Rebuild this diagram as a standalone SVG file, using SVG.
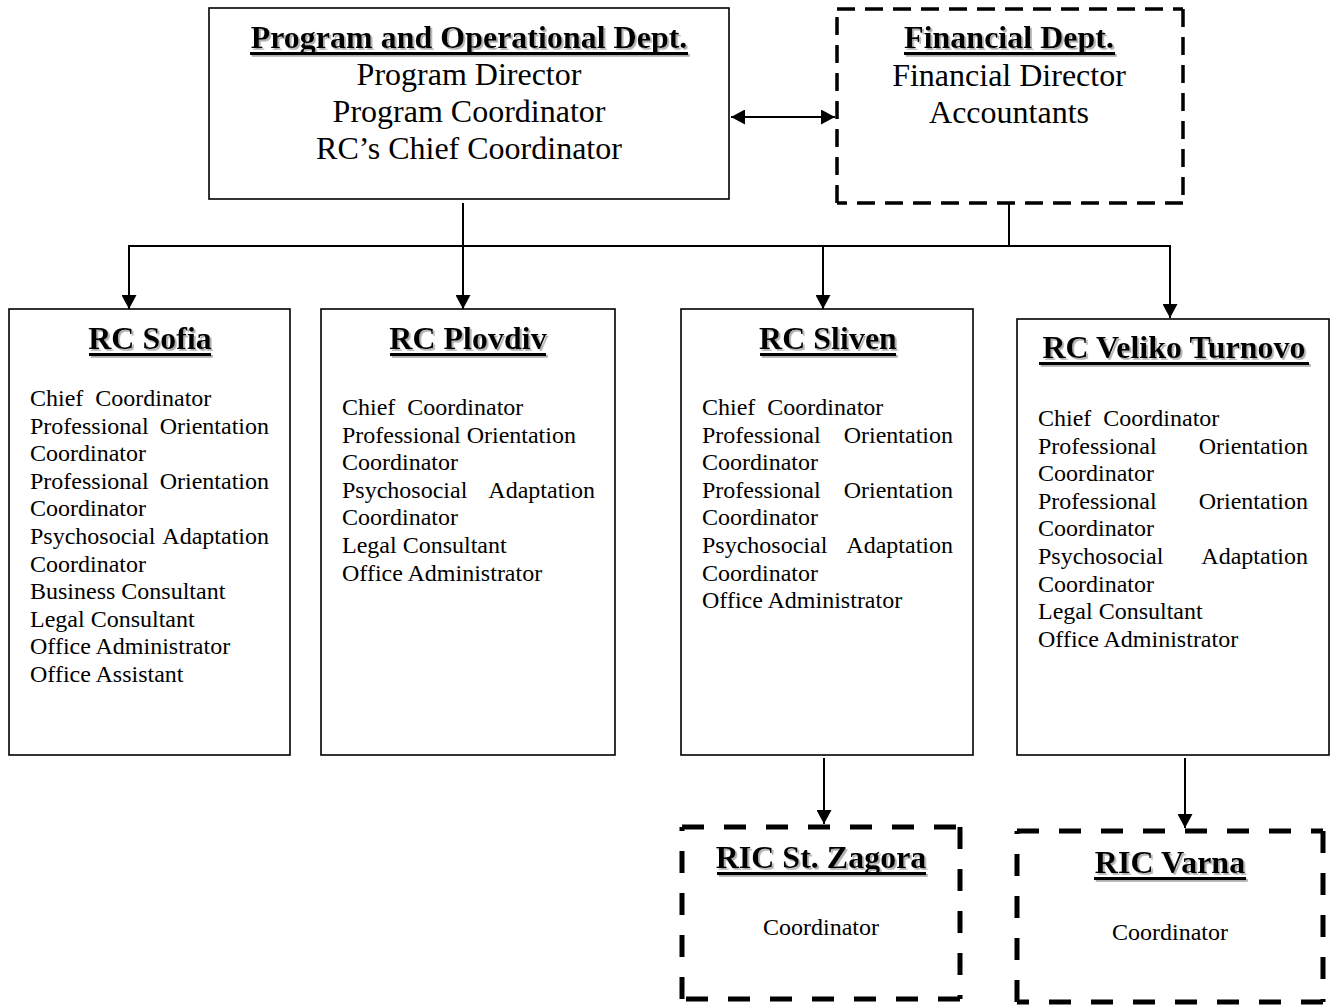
<svg xmlns="http://www.w3.org/2000/svg" width="1337" height="1008" viewBox="0 0 1337 1008">
<style>
text{font-family:"Liberation Serif","Times New Roman",serif;fill:#000}
.t{font-size:32px;font-weight:bold;text-anchor:middle}
.b32{font-size:32px;text-anchor:middle}
.b24{font-size:24px}
.c24{font-size:24px;text-anchor:middle}
.e{text-anchor:end}
.box{fill:#fff;stroke:#000;stroke-width:1.6}
.fin{fill:none;stroke:#000;stroke-width:3.5;stroke-dasharray:18 10}
.ric{fill:none;stroke:#000;stroke-width:5;stroke-dasharray:22 20}
.ln{fill:none;stroke:#000;stroke-width:2}
</style>
<defs>
<filter id="sh" x="-5%" y="-30%" width="110%" height="160%">
<feDropShadow dx="1.8" dy="1.8" stdDeviation="0.5" flood-color="#9a9a9a" flood-opacity="0.8"/>
</filter>
<marker id="ah" viewBox="0 0 14 15" refX="14" refY="7.5" markerWidth="14" markerHeight="15" markerUnits="userSpaceOnUse" orient="auto-start-reverse">
<path d="M0,0 L14,7.5 L0,15 z" fill="#000"/>
</marker>
</defs>

<g id="connectors">
<line class="ln" x1="731" y1="117" x2="835" y2="117" marker-start="url(#ah)" marker-end="url(#ah)"/>
<line class="ln" x1="463" y1="203" x2="463" y2="309" marker-end="url(#ah)"/>
<line class="ln" x1="1009" y1="204" x2="1009" y2="246"/>
<line class="ln" x1="128" y1="246" x2="1171" y2="246"/>
<line class="ln" x1="129" y1="246" x2="129" y2="309" marker-end="url(#ah)"/>
<line class="ln" x1="823" y1="246" x2="823" y2="309" marker-end="url(#ah)"/>
<line class="ln" x1="1170" y1="246" x2="1170" y2="318" marker-end="url(#ah)"/>
<line class="ln" x1="824" y1="758" x2="824" y2="824" marker-end="url(#ah)"/>
<line class="ln" x1="1185" y1="758" x2="1185" y2="828" marker-end="url(#ah)"/>
</g>

<g id="program-dept">
<rect class="box" x="209" y="8" width="520" height="191"/>
<g filter="url(#sh)">
<text class="t" x="469" y="48">Program and Operational Dept.</text>
<rect x="250" y="52" width="438" height="3"/>
</g>
<text class="b32" x="469" y="85">Program Director</text>
<text class="b32" x="469" y="122">Program Coordinator</text>
<text class="b32" x="469" y="159">RC’s Chief Coordinator</text>
</g>

<g id="financial-dept">
<path class="fin" d="M837,9 H1183 M1183,9 V203 M1183,203 H837 M837,203 V9"/>
<g filter="url(#sh)">
<text class="t" x="1009" y="48">Financial Dept.</text>
<rect x="904" y="52" width="211" height="3"/>
</g>
<text class="b32" x="1009" y="86">Financial Director</text>
<text class="b32" x="1009" y="123">Accountants</text>
</g>

<g id="rc-sofia">
<rect class="box" x="9" y="309" width="281" height="446"/>
<g filter="url(#sh)">
<text class="t" x="150" y="349">RC Sofia</text>
<rect x="89" y="353" width="122" height="3"/>
</g>
<text class="b24" x="30" y="406">Chief&#160; Coordinator</text>
<text class="b24" y="433.6"><tspan x="30">Professional</tspan><tspan class="e" x="269">Orientation</tspan></text>
<text class="b24" x="30" y="461.2">Coordinator</text>
<text class="b24" y="488.8"><tspan x="30">Professional</tspan><tspan class="e" x="269">Orientation</tspan></text>
<text class="b24" x="30" y="516.4">Coordinator</text>
<text class="b24" y="544"><tspan x="30">Psychosocial</tspan><tspan class="e" x="269">Adaptation</tspan></text>
<text class="b24" x="30" y="571.6">Coordinator</text>
<text class="b24" x="30" y="599.2">Business Consultant</text>
<text class="b24" x="30" y="626.8">Legal Consultant</text>
<text class="b24" x="30" y="654.4">Office Administrator</text>
<text class="b24" x="30" y="682">Office Assistant</text>
</g>

<g id="rc-plovdiv">
<rect class="box" x="321" y="309" width="294" height="446"/>
<g filter="url(#sh)">
<text class="t" x="468" y="349">RC Plovdiv</text>
<rect x="390" y="353" width="156" height="3"/>
</g>
<text class="b24" x="342" y="415">Chief&#160; Coordinator</text>
<text class="b24" x="342" y="442.6">Professional Orientation</text>
<text class="b24" x="342" y="470.2">Coordinator</text>
<text class="b24" y="497.8"><tspan x="342">Psychosocial</tspan><tspan class="e" x="595">Adaptation</tspan></text>
<text class="b24" x="342" y="525.4">Coordinator</text>
<text class="b24" x="342" y="553">Legal Consultant</text>
<text class="b24" x="342" y="580.6">Office Administrator</text>
</g>

<g id="rc-sliven">
<rect class="box" x="681" y="309" width="292" height="446"/>
<g filter="url(#sh)">
<text class="t" x="828" y="349">RC Sliven</text>
<rect x="760" y="353" width="136" height="3"/>
</g>
<text class="b24" x="702" y="415">Chief&#160; Coordinator</text>
<text class="b24" y="442.6"><tspan x="702">Professional</tspan><tspan class="e" x="953">Orientation</tspan></text>
<text class="b24" x="702" y="470.2">Coordinator</text>
<text class="b24" y="497.8"><tspan x="702">Professional</tspan><tspan class="e" x="953">Orientation</tspan></text>
<text class="b24" x="702" y="525.4">Coordinator</text>
<text class="b24" y="553"><tspan x="702">Psychosocial</tspan><tspan class="e" x="953">Adaptation</tspan></text>
<text class="b24" x="702" y="580.6">Coordinator</text>
<text class="b24" x="702" y="608.2">Office Administrator</text>
</g>

<g id="rc-veliko-turnovo">
<rect class="box" x="1017" y="319" width="312" height="436"/>
<g filter="url(#sh)">
<text class="t" x="1174" y="358">RC Veliko Turnovo</text>
<rect x="1039" y="362" width="270" height="3"/>
</g>
<text class="b24" x="1038" y="426">Chief&#160; Coordinator</text>
<text class="b24" y="453.6"><tspan x="1038">Professional</tspan><tspan class="e" x="1308">Orientation</tspan></text>
<text class="b24" x="1038" y="481.2">Coordinator</text>
<text class="b24" y="508.8"><tspan x="1038">Professional</tspan><tspan class="e" x="1308">Orientation</tspan></text>
<text class="b24" x="1038" y="536.4">Coordinator</text>
<text class="b24" y="564"><tspan x="1038">Psychosocial</tspan><tspan class="e" x="1308">Adaptation</tspan></text>
<text class="b24" x="1038" y="591.6">Coordinator</text>
<text class="b24" x="1038" y="619.2">Legal Consultant</text>
<text class="b24" x="1038" y="646.8">Office Administrator</text>
</g>

<g id="ric-st-zagora">
<path class="ric" d="M682,827 H960 M960,827 V999 M960,999 H682 M682,999 V827"/>
<g filter="url(#sh)">
<text class="t" x="821" y="868">RIC St. Zagora</text>
<rect x="717" y="872" width="209" height="3"/>
</g>
<text class="c24" x="821" y="935">Coordinator</text>
</g>

<g id="ric-varna">
<path class="ric" d="M1017,831 H1323 M1323,831 V1002 M1323,1002 H1017 M1017,1002 V831"/>
<g filter="url(#sh)">
<text class="t" x="1170" y="873">RIC Varna</text>
<rect x="1094" y="877" width="152" height="3"/>
</g>
<text class="c24" x="1170" y="940">Coordinator</text>
</g>
</svg>
